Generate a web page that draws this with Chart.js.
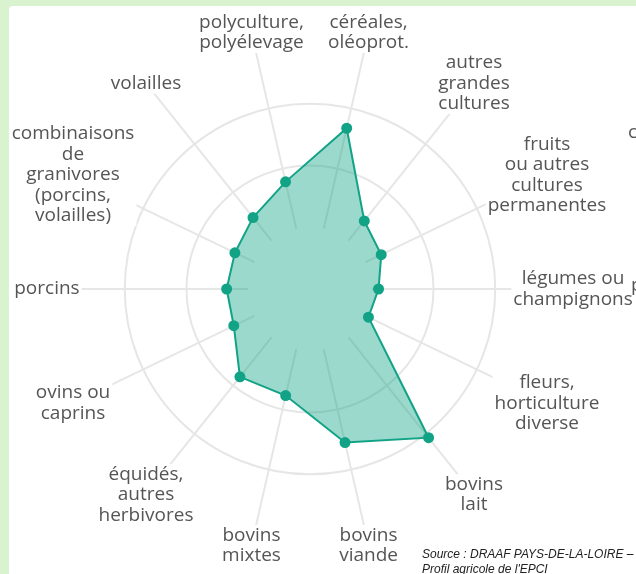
<!DOCTYPE html>
<html lang="fr">
<head>
<meta charset="UTF-8">
<script src="https://cdn.jsdelivr.net/npm/chart.js@4.4.1/dist/chart.umd.min.js"></script>
<title>Orientations technico-économiques</title>
<style>
  html, body { margin: 0; padding: 0; }
  body { width: 636px; height: 574px; overflow: hidden; background: #d9f3d1; position: relative; }
  .card { position: absolute; left: 9px; top: 6px; right: -20px; bottom: -20px; background: #fff; border-top-left-radius: 4px; }
  #radar { position: absolute; left: 0; top: 0; }
  .source { position: absolute; left: 422px; top: 547px; font: italic 12px "Liberation Sans", Arial, sans-serif; color: #222; line-height: 15px; white-space: nowrap; }
  .edge { position: absolute; font: 19px "Open Sans", sans-serif; color: #555; white-space: nowrap; }
</style>
</head>
<body>
<div class="card"></div>
<canvas id="radar" width="636" height="574"></canvas>
<div class="edge" style="left:628px; top:118px;">céréales</div>
<div class="edge" style="left:631px; top:271px;">porcins</div>
<div class="source">Source : DRAAF PAYS-DE-LA-LOIRE –<br>Profil agricole de l'EPCI</div>

<script>
// categories, clockwise from the top
const categories = [
  ['céréales,', 'oléoprot.'],
  ['autres', 'grandes', 'cultures'],
  ['fruits', 'ou autres', 'cultures', 'permanentes'],
  ['légumes ou', 'champignons'],
  ['fleurs,', 'horticulture', 'diverse'],
  ['bovins', 'lait'],
  ['bovins', 'viande'],
  ['bovins', 'mixtes'],
  ['équidés,', 'autres', 'herbivores'],
  ['ovins ou', 'caprins'],
  ['porcins'],
  ['combinaisons', 'de', 'granivores', '(porcins,', 'volailles)'],
  ['volailles'],
  ['polyculture,', 'polyélevage']
];
const values = [2.67, 1.41, 1.28, 1.11, 1.05, 3.08, 2.55, 1.77, 1.82, 1.37, 1.35, 1.35, 1.48, 1.78];
const gridValues = [2, 3];

const radarDecor = {
  id: 'radarDecor',
  beforeDatasetsDraw(chart) {
    const scale = chart.scales.r;
    const ctx = chart.ctx;
    ctx.save();
    ctx.strokeStyle = '#e6e6e6';
    ctx.lineWidth = 2;
    categories.forEach((c, i) => {
      const a = scale.getPointPositionForValue(i, 1);
      const b = scale.getPointPositionForValue(i, 4.2);
      ctx.beginPath();
      ctx.moveTo(a.x, a.y);
      ctx.lineTo(b.x, b.y);
      ctx.stroke();
    });
    ctx.restore();
  },
  afterDraw(chart) {
    const scale = chart.scales.r;
    const ctx = chart.ctx;
    const lh = 20.5;
    ctx.save();
    ctx.font = '19px "Open Sans"';
    ctx.textAlign = 'center';
    ctx.textBaseline = 'middle';
    categories.forEach((lines, i) => {
      const p = scale.getPointPositionForValue(i, 4.26);
      const w = Math.max(...lines.map(l => ctx.measureText(l).width));
      const h = lines.length * lh;
      ctx.fillStyle = '#fff';
      ctx.fillRect(p.x - w / 2 - 2, p.y - h / 2, w + 4, h);
      ctx.fillStyle = '#555';
      lines.forEach((l, k) => {
        ctx.fillText(l, p.x, p.y - h / 2 + lh * (k + 0.5));
      });
    });
    ctx.restore();
  }
};

new Chart(document.getElementById('radar'), {
  type: 'radar',
  data: {
    labels: categories,
    datasets: [{
      data: values,
      backgroundColor: 'rgba(20,165,136,0.42)',
      borderColor: '#12a386',
      borderWidth: 2,
      pointRadius: 4.5,
      pointBackgroundColor: '#12a386',
      pointBorderColor: '#12a386',
      fill: true
    }]
  },
  options: {
    responsive: false,
    animation: false,
    layout: { padding: { left: 63, right: 79, top: 42, bottom: 38 } },
    plugins: { legend: { display: false }, tooltip: { enabled: false } },
    scales: {
      r: {
        min: 0,
        max: 4,
        startAngle: 180 / 14,
        ticks: { display: false, stepSize: 1 },
        grid: {
          circular: true,
          lineWidth: 2,
          color: ctx => gridValues.includes(ctx.tick.value) ? '#e6e6e6' : 'rgba(0,0,0,0)'
        },
        angleLines: { display: false },
        pointLabels: { display: false }
      }
    }
  },
  plugins: [radarDecor]
});
</script>
</body>
</html>
